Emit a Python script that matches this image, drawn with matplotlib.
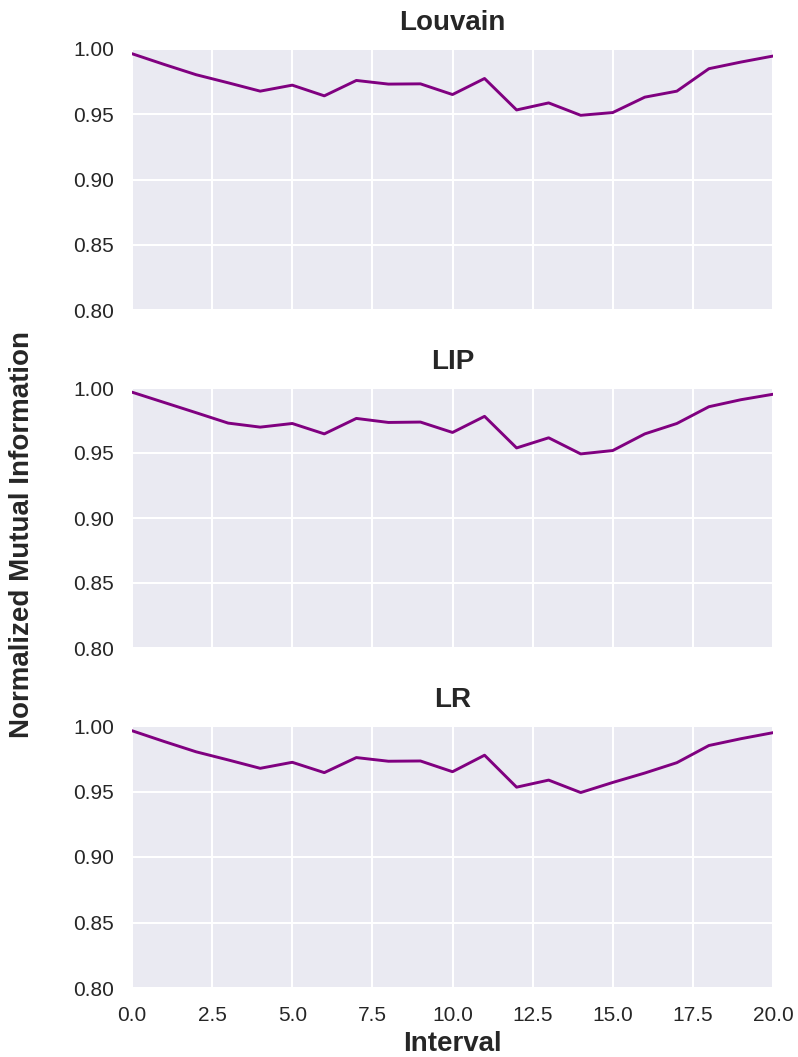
import matplotlib
matplotlib.use("Agg")
import matplotlib.pyplot as plt
import seaborn as sns

intervals = list(range(21))
louvain = [0.9964, 0.9882, 0.9803, 0.9741, 0.9677, 0.9723, 0.9641, 0.9759, 0.9731, 0.9733,
           0.9651, 0.9774, 0.9533, 0.9587, 0.9492, 0.9513, 0.9631, 0.9677, 0.9849, 0.9900, 0.9946]
lip = [0.9968, 0.9889, 0.9810, 0.9730, 0.9699, 0.9727, 0.9647, 0.9766, 0.9735, 0.9738,
       0.9658, 0.9782, 0.9539, 0.9617, 0.9493, 0.9519, 0.9647, 0.9727, 0.9856, 0.9910, 0.9952]
lr = [0.9964, 0.9882, 0.9803, 0.9741, 0.9677, 0.9723, 0.9644, 0.9759, 0.9731, 0.9733,
      0.9651, 0.9777, 0.9533, 0.9587, 0.9492, 0.9569, 0.9641, 0.9720, 0.9851, 0.9903, 0.9949]
titles = ["Louvain", "LIP", "LR"]
series = [louvain, lip, lr]
yticks = [0.80, 0.85, 0.90, 0.95, 1.00]
xticks = [0.0, 2.5, 5.0, 7.5, 10.0, 12.5, 15.0, 17.5, 20.0]

sns.set_style("darkgrid")
plt.rcParams['font.family'] = ['Liberation Sans', 'DejaVu Sans']
plt.rcParams['text.color'] = '#262626'
plt.rcParams['axes.labelcolor'] = '#262626'
plt.rcParams['xtick.color'] = '#262626'
plt.rcParams['ytick.color'] = '#262626'

W, H = 798, 1057
fig = plt.figure(figsize=(W / 100, H / 100), dpi=100)
left = 132 / W
width = (773 - 132) / W
panels = [(49, 310), (388, 648), (726, 988)]

axes = []
for i, ((top, bot), title, vals) in enumerate(zip(panels, titles, series)):
    ax = fig.add_axes([left, 1 - bot / H, width, (bot - top) / H])
    ax.plot(intervals, vals, color='#800080', linewidth=2.1)
    ax.set_xlim(0, 20)
    ax.set_ylim(0.80, 1.00)
    ax.set_yticks(yticks)
    ax.set_yticklabels([f"{v:.2f}" for v in yticks])
    ax.set_xticks(xticks)
    ax.set_title(title, fontsize=20, fontweight='bold', pad=14)
    ax.tick_params(axis='both', labelsize=15, pad=13, length=0)
    ax.grid(True, color='white', linewidth=1.5)
    for s in ax.spines.values():
        s.set_visible(False)
    if i < 2:
        ax.set_xticklabels([])
    else:
        ax.set_xticklabels([f"{v:.1f}" for v in xticks])
        ax.set_xlabel("Interval", fontsize=20, fontweight='bold', labelpad=4)
    axes.append(ax)

fig.text(22 / W, 0.494, "Normalized Mutual Information", rotation=90,
         fontsize=20, fontweight='bold', ha='center', va='center')

fig.savefig("out.png", dpi=100)
